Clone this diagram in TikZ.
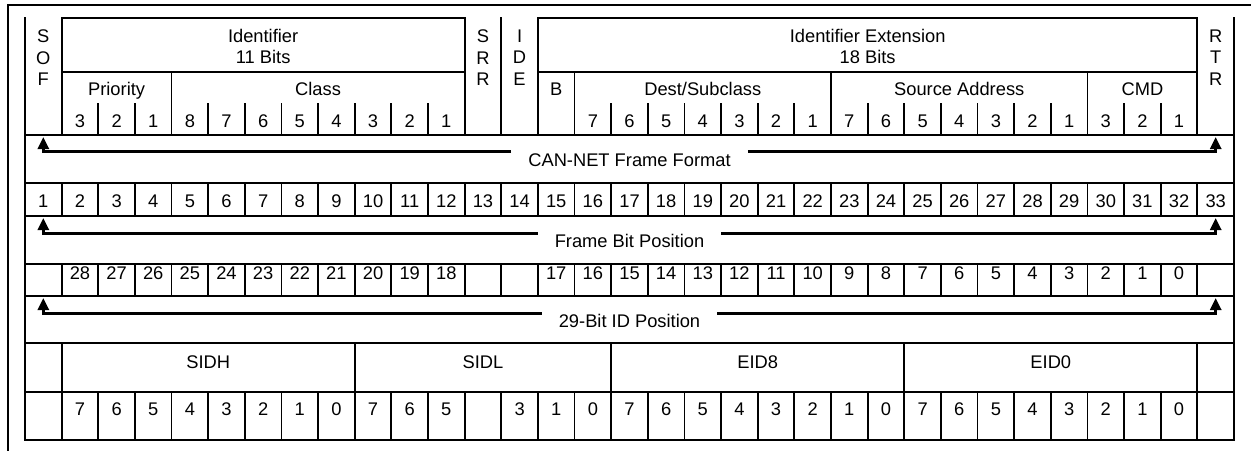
\documentclass[tikz,border=0pt]{standalone}
\usepackage{fontspec}
\setmainfont{Liberation Sans}
\usetikzlibrary{arrows.meta}
\begin{document}
\begin{tikzpicture}[x=36.636pt,y=-1pt,
  tl/.style={line width=1.8pt,line cap=rect},
  fl/.style={line width=2pt},
  al/.style={line width=2.8pt},
  tipend/.style={-{Triangle[width=11pt,length=12pt]}},
  txt/.style={font=\fontsize{18.3}{21.2}\selectfont, inner sep=0pt},
  bt/.style={txt, anchor=base},
  vt/.style={txt, anchor=north, align=center},
  lab/.style={txt, anchor=base, inner xsep=17pt}]
\useasboundingbox (-0.68239,0) rectangle (33.4643,450);
% outer frame (cropped)
\draw[fl] (-0.464,452) -- (-0.464,5) -- (34,5);
% ---- table outline
\draw[tl] (0,18) -- (0,440);
\draw[tl] (33,18) -- (33,440);
\foreach \y in {135,183,216,264,296,343,392,440} \draw[tl] (0,\y) -- (33,\y);
% ---- row 1 structure
\foreach \c in {1,12,13,14,32} \draw[tl] (\c,18) -- (\c,135);
\draw[tl] (1,18) -- (12,18);
\draw[tl] (14,18) -- (32,18);
\draw[tl] (1,72) -- (12,72);
\draw[tl] (14,72) -- (32,72);
\foreach \c in {4,15,22,29} \draw[tl] (\c,72) -- (\c,135);
\foreach \c in {2,3,5,6,7,8,9,10,11,16,17,18,19,20,21,23,24,25,26,27,28,30,31}
  \draw[tl] (\c,104) -- (\c,135);
% ---- rows 2, 3 and 5 separators
\foreach \c in {1,...,32} {
  \draw[tl] (\c,183) -- (\c,216);
  \draw[tl] (\c,264) -- (\c,296);
  \draw[tl] (\c,392) -- (\c,440);
}
\foreach \c in {1,9,16,24,32} \draw[tl] (\c,343) -- (\c,392);
% ---- row 1 texts
\node[vt] (sof) at (0.5,30) {S\\O\\F};
\node[vt] (ident) at (6.5,29) {Identifier\\11 Bits};
\node[vt] (srr) at (12.5,30) {S\\R\\R};
\node[vt] (ide) at (13.5,30) {I\\D\\E};
\node[vt] (ext) at (23,29) {Identifier Extension\\18 Bits};
\node[vt] (rtr) at (32.5,30) {R\\T\\R};
\node[bt] (prio) at (2.5,95) {Priority};
\node[bt] (class) at (8,95) {Class};
\node[bt] (bbit) at (14.5,95) {B};
\node[bt] (dest) at (18.5,95) {Dest/Subclass};
\node[bt] (src) at (25.5,95) {Source Address};
\node[bt] (cmd) at (30.5,95) {CMD};
\foreach \v [count=\k] in {3,2,1} \node[bt] (pb\k) at (\k+0.5,127) {\v};
\foreach \v [count=\k] in {8,...,1} \node[bt] (cb\k) at (\k+3.5,127) {\v};
\foreach \v [count=\k] in {7,...,1} \node[bt] (db\k) at (\k+14.5,127) {\v};
\foreach \v [count=\k] in {7,...,1} \node[bt] (sb\k) at (\k+21.5,127) {\v};
\foreach \v [count=\k] in {3,2,1} \node[bt] (mb\k) at (\k+28.5,127) {\v};
% ---- row 2 texts
\foreach \k in {1,...,33} \node[bt] (fb\k) at (\k-0.5,207) {\k};
% ---- row 3 texts
\foreach \v [count=\k] in {28,...,18} \node[bt] (ia\k) at (\k+0.5,279) {\v};
\foreach \v [count=\k] in {17,...,0} \node[bt] (ib\k) at (\k+13.5,279) {\v};
% ---- row 4/5 texts
\node[bt] (sidh) at (5,368) {SIDH};
\node[bt] (sidl) at (12.5,368) {SIDL};
\node[bt] (eid8) at (20,368) {EID8};
\node[bt] (eid0) at (28,368) {EID0};
\foreach \v [count=\k] in {7,...,0} \node[bt] (ra\k) at (\k+0.5,415) {\v};
\foreach \v [count=\k] in {7,6,5} \node[bt] (rb\k) at (\k+8.5,415) {\v};
\foreach \v [count=\k] in {3,1,0} \node[bt] (rc\k) at (\k+12.5,415) {\v};
\foreach \v [count=\k] in {7,...,0} \node[bt] (rd\k) at (\k+15.5,415) {\v};
\foreach \v [count=\k] in {7,...,0} \node[bt] (re\k) at (\k+23.5,415) {\v};
% ---- span arrows
\foreach \n/\t/\l/\txtb/\name in {1/137/151.5/166/CAN-NET Frame Format,
                                 2/218/233.5/247.5/Frame Bit Position,
                                 3/298/313.5/327.5/29-Bit ID Position} {
  \coordinate (t\n l) at (0.5,\t);
  \coordinate (c\n l) at (0.5,\l);
  \coordinate (t\n r) at (32.5,\t);
  \coordinate (c\n r) at (32.5,\l);
  \node[lab] (lab\n) at (16.5,\txtb) {\name};
  \draw[al,tipend] (lab\n.west |- c\n l) -- (c\n l) -- (t\n l);
  \draw[al,tipend] (lab\n.east |- c\n r) -- (c\n r) -- (t\n r);
}
\end{tikzpicture}
\end{document}
